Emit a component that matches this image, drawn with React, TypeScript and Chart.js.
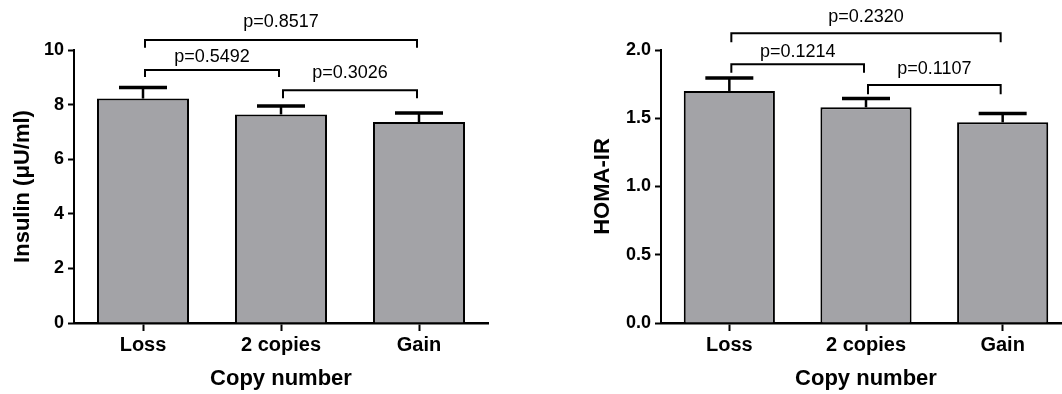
import { useEffect, useRef } from "react";
import { Chart, registerables } from "chart.js";
Chart.register(...registerables);

const categories = ["Loss", "2 copies", "Gain"];
const insulinMeans = [8.22, 7.64, 7.36];
const insulinSem = [0.41, 0.31, 0.33];
const homaMeans = [1.70, 1.58, 1.47];
const homaSem = [0.095, 0.065, 0.064];
const insulinTicks = [0, 2, 4, 6, 8, 10];
const homaTicks = [0, 0.5, 1.0, 1.5, 2.0];

// comparison brackets (levels in data units of each y axis)
const insulinBrackets = [
  { from: 0, to: 2, line: 10.37, drop: 10.08, text: 10.83, label: "p=0.8517" },
  { from: 0, to: 1, line: 9.27, drop: 9.01, text: 9.55, label: "p=0.5492" },
  { from: 1, to: 2, line: 8.53, drop: 8.23, text: 8.96, label: "p=0.3026" },
];
const homaBrackets = [
  { from: 0, to: 2, line: 2.122, drop: 2.056, text: 2.203, label: "p=0.2320" },
  { from: 0, to: 1, line: 1.895, drop: 1.834, text: 1.951, label: "p=0.1214" },
  { from: 1, to: 2, line: 1.744, drop: 1.675, text: 1.824, label: "p=0.1107" },
];

const FAMILY = '"Liberation Sans", Arial, Helvetica, sans-serif';

type Bracket = { from: number; to: number; line: number; drop: number; text: number; label: string };

function Panel(props: {
  left: number;
  means: number[];
  sem: number[];
  ticks: number[];
  yMax: number;
  decimals: number;
  yTitle: string;
  titlePad: number;
  padRight: number;
  brackets: Bracket[];
}) {
  const ref = useRef<HTMLCanvasElement | null>(null);
  useEffect(() => {
    const canvas = ref.current;
    if (!canvas) return;
    const { means, sem, ticks, yMax, decimals, yTitle, titlePad, padRight, brackets } = props;
    const annot = {
      id: "annot",
      afterDatasetsDraw(chart: any) {
        const ctx = chart.ctx;
        const y = chart.scales.y;
        const meta = chart.getDatasetMeta(0);
        ctx.save();
        ctx.strokeStyle = "#000";
        ctx.lineCap = "butt";
        // error bars (upper only)
        meta.data.forEach((bar: any, i: number) => {
          const x = bar.x;
          const yMean = y.getPixelForValue(means[i]);
          const yTop = y.getPixelForValue(means[i] + sem[i]);
          ctx.lineWidth = 2.5;
          ctx.beginPath();
          ctx.moveTo(x, yMean);
          ctx.lineTo(x, yTop);
          ctx.stroke();
          ctx.lineWidth = 3.5;
          ctx.beginPath();
          ctx.moveTo(x - 24, yTop);
          ctx.lineTo(x + 24, yTop);
          ctx.stroke();
        });
        // brackets
        ctx.lineWidth = 2;
        ctx.fillStyle = "#000";
        ctx.font = `18px ${FAMILY}`;
        ctx.textAlign = "center";
        ctx.textBaseline = "alphabetic";
        brackets.forEach((b) => {
          const x1 = meta.data[b.from].x + 2;
          const x2 = meta.data[b.to].x - 2;
          const yl = y.getPixelForValue(b.line);
          const yd = y.getPixelForValue(b.drop);
          ctx.beginPath();
          ctx.moveTo(x1, yd);
          ctx.lineTo(x1, yl);
          ctx.lineTo(x2, yl);
          ctx.lineTo(x2, yd);
          ctx.stroke();
          ctx.fillText(b.label, (x1 + x2) / 2, y.getPixelForValue(b.text));
        });
        ctx.restore();
      },
    };
    const chart = new Chart(canvas, {
      type: "bar",
      data: {
        labels: categories,
        datasets: [
          {
            data: means,
            backgroundColor: "#a3a3a7",
            borderColor: "#000",
            borderWidth: 2,
            barPercentage: 0.667,
            categoryPercentage: 1,
            borderSkipped: "start",
          },
        ],
      },
      options: {
        responsive: false,
        animation: false,
        layout: { padding: { left: 0, top: 50, right: padRight, bottom: 0 } },
        plugins: { legend: { display: false }, tooltip: { enabled: false } },
        scales: {
          x: {
            offset: true,
            grid: { display: true, drawOnChartArea: false, offset: false, tickLength: 8, tickWidth: 2, tickColor: "#000" },
            border: { display: true, color: "#000", width: 2.5 },
            ticks: { color: "#000", font: { family: FAMILY, size: 20, weight: "bold" }, padding: 2, maxRotation: 0 },
            title: {
              display: true,
              text: "Copy number",
              color: "#000",
              font: { family: FAMILY, size: 22, weight: "bold" },
              padding: { top: 0, bottom: 2 },
            },
            afterFit: (s: any) => {
              s.height = 71;
            },
          },
          y: {
            min: 0,
            max: yMax,
            afterBuildTicks: (s: any) => {
              s.ticks = ticks.map((v) => ({ value: v }));
            },
            grid: { display: true, drawOnChartArea: false, tickLength: 6, tickWidth: 2, tickColor: "#000" },
            border: { display: true, color: "#000", width: 2 },
            ticks: {
              color: "#000",
              font: { family: FAMILY, size: 18, weight: "bold" },
              padding: 4,
              callback: (v: any) => Number(v).toFixed(decimals),
            },
            title: {
              display: true,
              text: yTitle,
              color: "#000",
              font: { family: FAMILY, size: 22, weight: "bold" },
              padding: { top: titlePad, bottom: 0 },
            },
            afterFit: (s: any) => {
              s.width = 74;
            },
          },
        },
      },
      plugins: [annot],
    } as any);
    return () => chart.destroy();
  }, []);
  return (
    <canvas
      ref={ref}
      width={540}
      height={394}
      style={{ position: "absolute", left: props.left, top: 0, width: 540, height: 394 }}
    />
  );
}

export default function App() {
  return (
    <div
      style={{
        position: "absolute",
        left: 0,
        top: 0,
        width: 1062,
        height: 394,
        overflow: "hidden",
        background: "#fff",
      }}
    >
      <Panel
        left={0}
        means={insulinMeans}
        sem={insulinSem}
        ticks={insulinTicks}
        yMax={10}
        decimals={0}
        yTitle="Insulin (μU/ml)"
        titlePad={10}
        padRight={52}
        brackets={insulinBrackets}
      />
      <Panel
        left={587}
        means={homaMeans}
        sem={homaSem}
        ticks={homaTicks}
        yMax={2}
        decimals={1}
        yTitle="HOMA-IR"
        titlePad={3}
        padRight={56}
        brackets={homaBrackets}
      />
    </div>
  );
}
